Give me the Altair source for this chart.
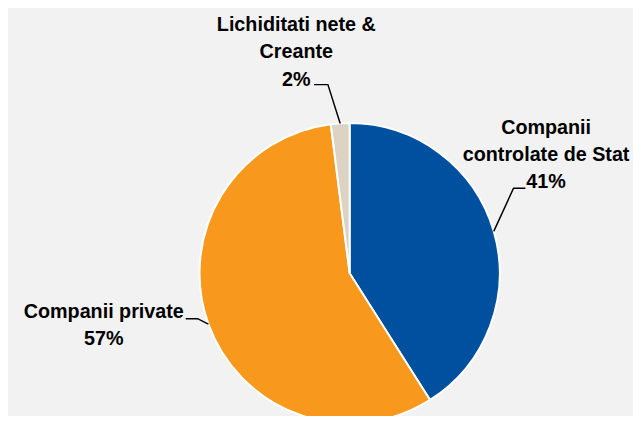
import math
import altair as alt
import pandas as pd

# ---- data ----
categories = ["Companii controlate de Stat", "Companii private", "Lichiditati nete & Creante"]
label_text = ["Companii\ncontrolate de Stat", "Companii private", "Lichiditati nete &\nCreante"]
values = [41, 57, 2]
colors = ["#0050A0", "#F8991D", "#DDD3C5"]

# ---- layout (chart pixel space) ----
CX, CY, R = 346, 266, 152
label_anchor = {  # text centre x, first-line baseline y
    categories[0]: (545, 125),
    categories[1]: (97, 311),
    categories[2]: (292, 21),
}
leader_elbow = {  # elbow point, end point
    categories[0]: ((512, 180), (524, 180)),
    categories[1]: ((192, 312), (180, 312)),
    categories[2]: ((324, 75), (310, 75)),
}

pie_df = pd.DataFrame({"category": categories, "value": values, "ord": range(len(values))})

total = sum(values)
rows_line, rows_text = [], []
cum = 0
for cat, v, txt in zip(categories, values, label_text):
    mid = (cum + v / 2) / total * 2 * math.pi
    cum += v
    ex, ey = CX + R * math.sin(mid), CY - R * math.cos(mid)
    (bx, by), (fx, fy) = leader_elbow[cat]
    for i, (px, py) in enumerate([(ex, ey), (bx, by), (fx, fy)]):
        rows_line.append({"category": cat, "i": i, "px": px, "py": py})
    tx, ty = label_anchor[cat]
    rows_text.append({"category": cat, "label": f"{txt}\n{v}%", "px": tx, "py": ty})

line_df = pd.DataFrame(rows_line)
text_df = pd.DataFrame(rows_text)

pie = alt.Chart(pie_df).mark_arc(radius=R, x=CX, y=CY, stroke="white", strokeWidth=2).encode(
    theta=alt.Theta("value:Q", stack=True),
    color=alt.Color("category:N", scale=alt.Scale(domain=categories, range=colors), legend=None),
    order=alt.Order("ord:Q"),
)

leaders = alt.Chart(line_df).mark_line(color="black", strokeWidth=1.5).encode(
    x=alt.X("px:Q", scale=None),
    y=alt.Y("py:Q", scale=None),
    detail="category:N",
    order="i:Q",
)

labels = alt.Chart(text_df).mark_text(
    lineBreak="\n", align="center", baseline="alphabetic",
    font="Liberation Sans", fontWeight="bold", fontSize=20, lineHeight=27.5, color="black",
).encode(
    x=alt.X("px:Q", scale=None),
    y=alt.Y("py:Q", scale=None),
    text="label:N",
)

chart = alt.layer(pie, leaders, labels).properties(
    width=633, height=408, autosize=alt.AutoSizeParams(type="none"), padding=0,
    background="#F2F2F2",
).configure_view(stroke=None)

chart.save("out.html", embed_options={"renderer": "svg", "actions": False})
